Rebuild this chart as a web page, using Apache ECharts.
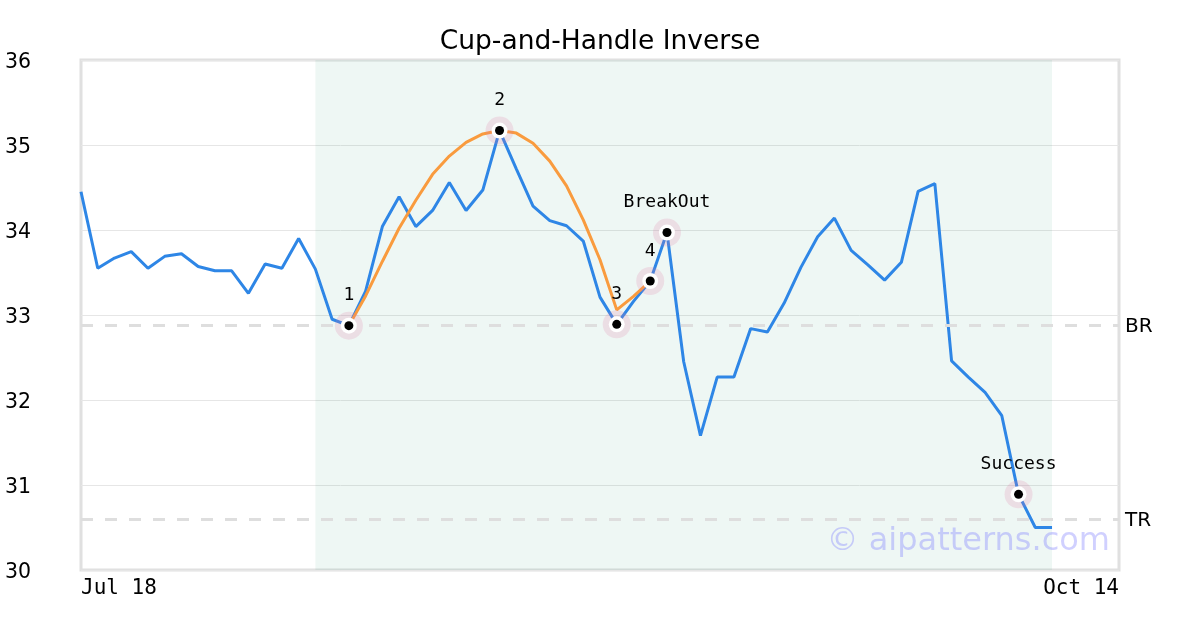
<!DOCTYPE html>
<html>
<head>
<meta charset="utf-8">
<script src="https://cdn.jsdelivr.net/npm/echarts@6/dist/echarts.min.js"></script>
<style>html,body{margin:0;padding:0;background:#fff}#c{width:1200px;height:630px}</style>
</head>
<body>
<div id="c"></div>
<script>
var categories = ["Jul 18","Jul 19","Jul 20","Jul 21","Jul 24","Jul 25","Jul 26","Jul 27","Jul 28","Jul 31",
"Aug 1","Aug 2","Aug 3","Aug 4","Aug 7","Aug 8","Aug 9","Aug 10","Aug 11","Aug 14","Aug 15","Aug 16","Aug 17","Aug 18",
"Aug 21","Aug 22","Aug 23","Aug 24","Aug 25","Aug 28","Aug 29","Aug 30","Aug 31",
"Sep 1","Sep 5","Sep 6","Sep 7","Sep 8","Sep 11","Sep 12","Sep 13","Sep 14","Sep 15","Sep 18","Sep 19","Sep 20","Sep 21","Sep 22",
"Sep 25","Sep 26","Sep 27","Sep 28","Sep 29",
"Oct 2","Oct 3","Oct 4","Oct 5","Oct 6","Oct 9","Oct 10","Oct 11","Oct 12","Oct 14"];

var price = [34.45,33.55,33.67,33.745,33.55,33.69,33.72,33.57,33.52,33.52,
33.255,33.60,33.55,33.90,33.54,32.95,32.875,33.28,34.04,34.39,
34.04,34.23,34.56,34.23,34.47,35.17,34.72,34.28,34.11,34.05,
33.87,33.21,32.89,33.16,33.40,33.97,32.45,31.58,32.27,32.27,
32.84,32.80,33.14,33.56,33.92,34.14,33.76,33.59,33.41,33.62,
34.455,34.545,32.46,32.27,32.09,31.815,30.89,30.50,30.50];

var cupFit = [null,null,null,null,null,null,null,null,null,null,
null,null,null,null,null,null,32.875,33.224,33.63,34.02,
34.35,34.655,34.87,35.03,35.13,35.17,35.14,35.02,34.81,34.52,
34.12,33.65,33.06,33.22,33.40];

var pointIdx = [16,25,32,34,35,56];
var pointLabels = ["1","2","3","4","BreakOut","Success"];
var patternStart = 14, patternEnd = 58;
var levelNames = ["BR","TR"];
var levelValues = [32.875,30.6];
var yTicks = [30,31,32,33,34,35,36];

var pts = pointIdx.map(function(i,k){return {value:[categories[i],price[i]], name: pointLabels[k]};});

var chart = echarts.init(document.getElementById('c'), null, {renderer:'canvas'});
chart.setOption({
  animation:false,
  title:{text:'Cup-and-Handle Inverse',left:'center',top:24,textStyle:{fontFamily:'DejaVu Sans',fontSize:26.5,fontWeight:'normal',color:'#000'}},
  grid:{left:81,right:81,top:60,bottom:60,show:true,borderColor:'#e0e0e0',borderWidth:3,backgroundColor:'transparent'},
  graphic:[{type:'text',right:90,top:526,z:100,style:{text:'\u00a9 aipatterns.com',fontFamily:'DejaVu Sans',fontSize:32,fill:'rgba(110,110,255,0.32)'}}],
  xAxis:{type:'category',data:categories,boundaryGap:false,
    axisLine:{show:false},axisTick:{show:false},splitLine:{show:false},
    axisLabel:{interval:function(i){return i===0||i===categories.length-1;},alignMinLabel:'left',alignMaxLabel:'right',
      fontFamily:'DejaVu Sans Mono',fontSize:21,color:'#000',margin:8}},
  yAxis:{type:'value',min:yTicks[0],max:yTicks[yTicks.length-1],interval:1,
    axisLine:{show:false},axisTick:{show:false},
    splitLine:{lineStyle:{color:'#e6e6e6',width:1}},
    axisLabel:{align:'left',margin:76,formatter:'{a|{value}}',
      rich:{a:{fontFamily:'DejaVu Sans',fontSize:20.5,color:'#000',padding:[5,0,0,0]}}}},
  series:[
    {type:'line',data:price,symbol:'none',z:2,lineStyle:{color:'#2e86e6',width:3},
      markArea:{silent:true,itemStyle:{color:'rgba(0,140,90,0.065)'},data:[[{xAxis:categories[patternStart]},{xAxis:categories[patternEnd]}]]},
      markLine:{silent:true,symbol:'none',lineStyle:{color:'#dedede',width:3,type:[12,12]},
        label:{position:'end',distance:6,formatter:function(p){return '{a|'+p.name+'}';},
          rich:{a:{fontFamily:'DejaVu Sans',fontSize:20,color:'#000',padding:[4,0,0,0]}}},
        data:levelNames.map(function(n,k){return {name:n,yAxis:levelValues[k]};})}
    },
    {type:'line',data:cupFit,symbol:'none',z:3,lineStyle:{color:'#f99b3e',width:3}},
    {type:'scatter',data:pts,symbol:'circle',symbolSize:28,z:4,itemStyle:{color:'rgba(218,122,164,0.2)',opacity:1}},
    {type:'scatter',data:pts,symbol:'circle',symbolSize:16,z:5,itemStyle:{color:'#fff',opacity:1}},
    {type:'scatter',data:pts,symbol:'circle',symbolSize:9,z:6,itemStyle:{color:'#000',opacity:1},
      label:{show:true,position:'inside',offset:[0,-30],formatter:function(p){return p.name;},
        fontFamily:'DejaVu Sans Mono',fontSize:18,color:'#000',opacity:1,textBorderWidth:0}}
  ]
});
</script>
</body>
</html>
